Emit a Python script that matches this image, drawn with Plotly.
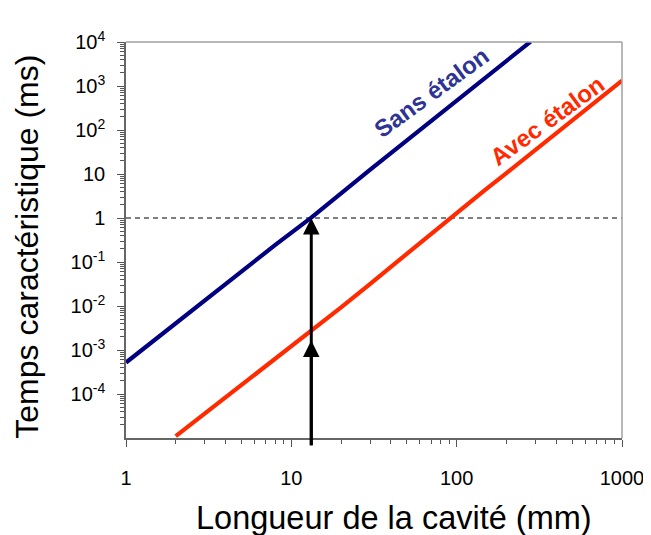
import math
import plotly.graph_objects as go

# ---- data ----
length_sans = [1, 2, 3, 5, 8, 13.2, 20, 30, 50, 70, 100, 150, 200, 280]
temps_sans = [5.2e-4, 4.1e-3, 1.35e-2, 6.1e-2, 0.245, 1.02, 3.7, 12.6, 58, 160, 466, 1570, 3730, 1.02e4]

length_avec = [2, 3, 5, 10, 13.2, 20, 30, 50, 70, 91, 150, 200, 300, 500, 700, 1000]
temps_avec = [1.1e-5, 3.6e-5, 1.6e-4, 1.25e-3, 2.65e-3, 9.3e-3, 3.2e-2, 0.155, 0.43, 1.0, 4.5, 10.5, 36, 165, 450, 1330]

threshold_x = [1, 1000]
threshold_y = [1, 1]

arrow_length = 13.2
arrow_targets = [1.0, 2.65e-3]

x_tickvals = [1, 10, 100, 1000]
x_ticktext = ["1", "10", "100", "1000"]
y_tickvals = [1e4, 1e3, 1e2, 10, 1, 1e-1, 1e-2, 1e-3, 1e-4]
y_ticktext = ["10<sup>4</sup>", "10<sup>3</sup>", "10<sup>2</sup>", "10", "1",
              "10<sup>-1</sup>", "10<sup>-2</sup>", "10<sup>-3</sup>", "10<sup>-4</sup>"]

label_sans = ("Sans étalon", 70, 724)
label_avec = ("Avec étalon", 352, 168)

x_title = "Longueur de la cavité (mm)"
y_title = "Temps caractéristique (ms)"

FONT = "Liberation Sans, Arial, sans-serif"
BLUE_LINE = "#000080"
BLUE_TEXT = "#2d3494"
RED = "#ff2a00"

minor_x = [m * 10 ** k for k in range(0, 3) for m in range(2, 10)]
minor_y = [m * 10.0 ** k for k in range(-5, 4) for m in range(2, 10)]

fig = go.Figure()
fig.add_trace(go.Scatter(x=threshold_x, y=threshold_y, mode="lines",
                         line=dict(color="#555555", width=1.3, dash="5px,4px"),
                         hoverinfo="skip", showlegend=False))
fig.add_trace(go.Scatter(x=length_sans, y=temps_sans, mode="lines",
                         line=dict(color=BLUE_LINE, width=4.2), name="Sans étalon",
                         showlegend=False))
fig.add_trace(go.Scatter(x=length_avec, y=temps_avec, mode="lines",
                         line=dict(color=RED, width=4.2), name="Avec étalon",
                         showlegend=False))

# arrows
ax_log = math.log10(arrow_length)
fig.add_annotation(x=ax_log, y=math.log10(arrow_targets[0]), xref="x", yref="y",
                   ax=0, ay=229, axref="pixel", ayref="pixel", text="",
                   showarrow=True, arrowhead=2, arrowsize=1.1, arrowwidth=3,
                   arrowcolor="black")
fig.add_annotation(x=ax_log, y=math.log10(arrow_targets[1]), xref="x", yref="y",
                   ax=0, ay=115, axref="pixel", ayref="pixel", text="",
                   showarrow=True, arrowhead=2, arrowsize=1.1, arrowwidth=3,
                   arrowcolor="black", standoff=9)

for (txt, xv, yv), col in [(label_sans, BLUE_TEXT), (label_avec, RED)]:
    fig.add_annotation(x=math.log10(xv), y=math.log10(yv), xref="x", yref="y",
                       text="<b>" + txt + "</b>", showarrow=False, textangle=-36,
                       font=dict(family=FONT, size=24, color=col))

# axis titles
fig.add_annotation(text=x_title, xref="paper", yref="paper", x=0.54, y=0,
                   xanchor="center", yanchor="middle", yshift=-80, showarrow=False,
                   font=dict(family=FONT, size=32.5, color="black"))
fig.add_annotation(text=y_title, xref="paper", yref="paper", x=-0.1985, y=0.482,
                   xanchor="center", yanchor="middle", textangle=-90, showarrow=False,
                   borderpad=0,
                   font=dict(family=FONT, size=32, color="black"))

# top & right frame in lighter grey
fig.add_shape(type="line", xref="paper", yref="paper", x0=0, x1=1, y0=1, y1=1,
              line=dict(color="#a0a0a0", width=1.5))
fig.add_shape(type="line", xref="paper", yref="paper", x0=1, x1=1, y0=0, y1=1,
              line=dict(color="#a0a0a0", width=1.5))

fig.update_xaxes(type="log", range=[0, 3], tickvals=x_tickvals, ticktext=x_ticktext,
                 ticks="outside", ticklen=7, tickcolor="#555555", tickwidth=1,
                 showline=True, linecolor="#666666", linewidth=1.5, showgrid=False,
                 zeroline=False, ticklabelstandoff=14, automargin=False,
                 tickfont=dict(family=FONT, size=20, color="black"),
                 minor=dict(tickvals=minor_x, ticks="outside", ticklen=4,
                            tickcolor="#555555", showgrid=False))
fig.update_yaxes(type="log", range=[-5, 4], tickvals=y_tickvals, ticktext=y_ticktext,
                 ticks="outside", ticklen=7, tickcolor="#555555", tickwidth=1,
                 showline=True, linecolor="#666666", linewidth=1.5, showgrid=False,
                 zeroline=False, ticklabelstandoff=8, automargin=False,
                 tickfont=dict(family=FONT, size=20, color="black"),
                 minor=dict(tickvals=minor_y, ticks="outside", ticklen=4,
                            tickcolor="#555555", showgrid=False))

# page body has an 8px margin, so the figure is drawn 8px smaller each way
fig.update_layout(width=643, height=527, autosize=False,
                  margin=dict(l=118, r=29, t=34, b=97, autoexpand=False),
                  paper_bgcolor="white", plot_bgcolor="white",
                  showlegend=False)

fig.write_html("out.html")
